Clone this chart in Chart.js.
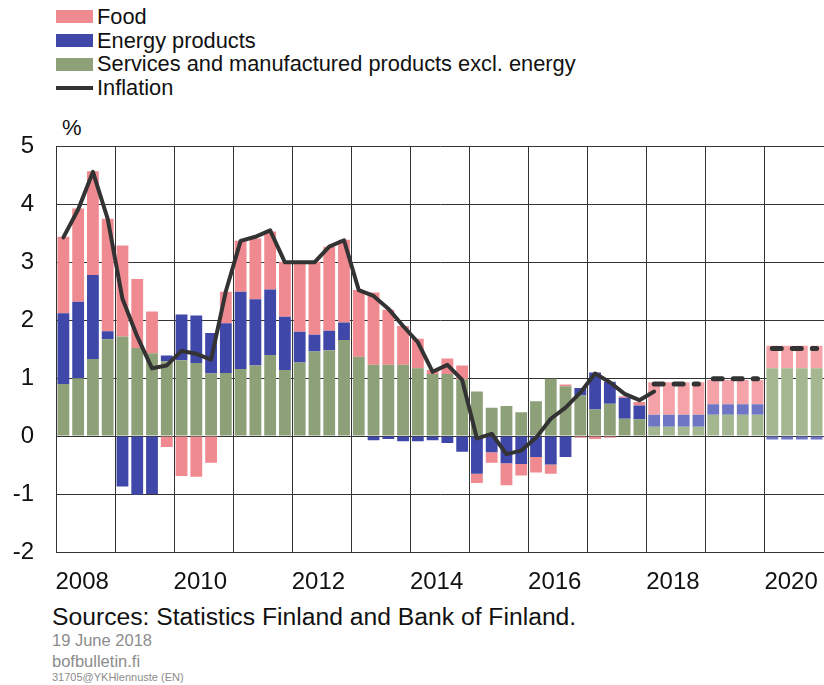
<!DOCTYPE html>
<html>
<head>
<meta charset="utf-8">
<script src="https://cdn.jsdelivr.net/npm/chart.js@4.4.0/dist/chart.umd.min.js"></script>
<style>
  body { margin:0; width:824px; height:685px; background:#fff; font-family:"Liberation Sans", Arial, sans-serif; position:relative; overflow:hidden; color:#111; }
  #legend { position:absolute; left:56px; top:5px; }
  .row { height:23.7px; display:flex; align-items:center; font-size:21.8px; white-space:nowrap; }
  .sw { width:37px; height:13px; margin-right:4px; }
  .ln { width:37px; height:4px; background:#333; margin-right:4px; }
  #pct { position:absolute; left:62px; top:115px; font-size:22px; }
  #chartBox { position:absolute; left:0; top:110px; }
  .foot { position:absolute; left:52px; white-space:nowrap; }
</style>
</head>
<body>
<div id="legend"></div>
<div id="pct">%</div>
<div id="chartBox"><canvas id="cpi" width="824" height="490"></canvas></div>
<div class="foot" style="top:603px;font-size:24.7px;line-height:28px;">Sources: Statistics Finland and Bank of Finland.</div>
<div class="foot" style="top:630px;font-size:16.5px;line-height:20px;color:#8c8c8c;">19 June 2018</div>
<div class="foot" style="top:651px;font-size:16.5px;line-height:20px;color:#8c8c8c;">bofbulletin.fi</div>
<div class="foot" style="top:670px;font-size:11px;line-height:14px;color:#8c8c8c;">31705@YKHlennuste (EN)</div>
<script>
// quarters 2008 Q1 .. 2020 Q4, 2018 onwards = forecast (annual values)
const years = [2008, 2009, 2010, 2011, 2012, 2013, 2014, 2015, 2016, 2017, 2018, 2019, 2020];
const tickYears = [2008, 2010, 2012, 2014, 2016, 2018, 2020];
const yTicks = [-2, -1, 0, 1, 2, 3, 4, 5];

const services = [
  0.90, 1.00, 1.33, 1.67,
  1.72, 1.52, 1.43, 1.29,
  1.31, 1.26, 1.08, 1.09,
  1.16, 1.22, 1.40, 1.14,
  1.27, 1.46, 1.48, 1.66,
  1.37, 1.23, 1.23, 1.23,
  1.17, 1.07, 1.07, 0.98,
  0.77, 0.49, 0.52, 0.41,
  0.60, 0.99, 0.86, 0.70,
  0.46, 0.56, 0.30, 0.29,
  0.16, 0.16, 0.16, 0.16,
  0.37, 0.37, 0.37, 0.37,
  1.17, 1.17, 1.17, 1.17
];
const energy = [
  1.22, 1.32, 1.45, 0.14,
  -0.87, -1.01, -1.00, 0.10,
  0.79, 0.82, 0.70, 0.86,
  1.33, 1.14, 1.13, 0.92,
  0.53, 0.29, 0.34, 0.30,
  0.00, -0.07, -0.05, -0.09,
  -0.09, -0.07, -0.12, -0.27,
  -0.65, -0.28, -0.47, -0.48,
  -0.36, -0.49, -0.36, 0.13,
  0.64, 0.38, 0.36, 0.24,
  0.21, 0.21, 0.21, 0.21,
  0.18, 0.18, 0.18, 0.18,
  -0.06, -0.06, -0.06, -0.06
];
const food = [
  1.32, 1.61, 1.79, 1.94,
  1.57, 1.19, 0.72, -0.19,
  -0.69, -0.70, -0.46, 0.54,
  0.88, 1.05, 1.00, 0.95,
  1.21, 1.26, 1.45, 1.43,
  1.15, 1.25, 0.95, 0.67,
  0.51, 0.07, 0.27, 0.24,
  -0.16, -0.18, -0.38, -0.20,
  -0.27, -0.16, 0.03, -0.03,
  -0.05, -0.03, 0.03, 0.06,
  0.56, 0.56, 0.56, 0.56,
  0.42, 0.42, 0.42, 0.42,
  0.39, 0.39, 0.39, 0.39
];
const inflation = [
  3.43, 3.91, 4.56, 3.75,
  2.37, 1.72, 1.17, 1.22,
  1.47, 1.42, 1.32, 2.50,
  3.37, 3.44, 3.55, 3.00,
  3.00, 3.00, 3.27, 3.38,
  2.52, 2.42, 2.20, 1.90,
  1.62, 1.11, 1.23, 0.97,
  -0.04, 0.04, -0.31, -0.25,
  -0.03, 0.30, 0.49, 0.75,
  1.08, 0.93, 0.73, 0.62,
  0.77, null, null, null,
  null, null, null, null,
  null, null, null, null
];
const inflationForecast = [
  null, null, null, null, null, null, null, null, null, null, null, null, null,
  null, null, null, null, null, null, null, null, null, null, null, null, null,
  null, null, null, null, null, null, null, null, null, null, null, null, null, null,
  0.90, 0.90, 0.90, 0.90,
  0.99, 0.99, 0.99, 0.99,
  1.51, 1.51, 1.51, 1.51
];

const quarterLabels = [];
years.forEach(y => ['Q1', 'Q2', 'Q3', 'Q4'].forEach(q => quarterLabels.push(y + ' ' + q)));
const firstForecast = quarterLabels.indexOf('2018 Q1');

const colors = {
  food: ['#f08a91', '#f5a3a8'],
  energy: ['#3f48a8', '#6d75c4'],
  services: ['#8da078', '#a5b790'],
  line: '#333333'
};
const gridColor = '#333';
const pick = pair => ctx => ctx.dataIndex >= firstForecast ? pair[1] : pair[0];

// legend in html
const legendItems = [
  ['Food', colors.food[0], 'box'],
  ['Energy products', colors.energy[0], 'box'],
  ['Services and manufactured products excl. energy', colors.services[0], 'box'],
  ['Inflation', colors.line, 'line']
];
const legendDiv = document.getElementById('legend');
legendItems.forEach(it => {
  const row = document.createElement('div');
  row.className = 'row';
  const mark = document.createElement('div');
  mark.className = it[2] === 'box' ? 'sw' : 'ln';
  mark.style.background = it[1];
  row.appendChild(mark);
  row.appendChild(document.createTextNode(it[0]));
  legendDiv.appendChild(row);
});

const barBase = { type: 'bar', stack: 'cpi', order: 2, barPercentage: 0.8, categoryPercentage: 1.0, borderWidth: 0 };

new Chart(document.getElementById('cpi'), {
  data: {
    labels: quarterLabels,
    datasets: [
      Object.assign({ label: 'Services and manufactured products excl. energy', data: services, backgroundColor: pick(colors.services) }, barBase),
      Object.assign({ label: 'Energy products', data: energy, backgroundColor: pick(colors.energy) }, barBase),
      Object.assign({ label: 'Food', data: food, backgroundColor: pick(colors.food) }, barBase),
      {
        type: 'line', label: 'Inflation', data: inflation, stack: 'inf', order: 0,
        borderColor: colors.line, borderWidth: 4, pointRadius: 0, tension: 0,
        borderJoinStyle: 'round', borderCapStyle: 'round'
      },
      {
        type: 'line', label: 'Inflation forecast', data: inflationForecast, stack: 'fc', order: 0,
        borderColor: colors.line, borderWidth: 5, pointRadius: 0, tension: 0,
        borderDash: [9, 11], borderCapStyle: 'round',
        segment: {
          borderColor: ctx => quarterLabels[ctx.p0DataIndex].slice(0, 4) !== quarterLabels[ctx.p1DataIndex].slice(0, 4) ? 'rgba(0,0,0,0)' : undefined
        }
      }
    ]
  },
  options: {
    responsive: false,
    animation: false,
    layout: { padding: { top: 35, right: 0, bottom: 0, left: 0 } },
    plugins: { legend: { display: false }, tooltip: { enabled: false } },
    scales: {
      x: {
        stacked: true,
        offset: true,
        afterFit: s => { s.height = 48; s.paddingLeft = 0; s.paddingRight = 0; },
        grid: {
          offset: true,
          drawTicks: false,
          color: ctx => ctx.index % 4 === 0 ? gridColor : 'rgba(0,0,0,0)',
          lineWidth: 1
        },
        border: { color: gridColor },
        ticks: {
          autoSkip: false,
          maxRotation: 0,
          minRotation: 0,
          padding: 16,
          labelOffset: 4,
          color: '#111',
          font: { family: '"Liberation Sans", Arial, sans-serif', size: 24 },
          callback: function (v, i) {
            const lab = quarterLabels[i];
            const y = Number(lab.slice(0, 4));
            return lab.endsWith('Q2') && tickYears.includes(y) ? String(y) : '';
          }
        }
      },
      y: {
        stacked: true,
        min: yTicks[0],
        max: yTicks[yTicks.length - 1],
        afterFit: s => { s.width = 56; },
        afterBuildTicks: s => { s.ticks = yTicks.map(v => ({ value: v })); },
        grid: { drawTicks: false, color: gridColor, lineWidth: 1 },
        border: { color: gridColor },
        ticks: {
          padding: 22,
          color: '#111',
          font: { family: '"Liberation Sans", Arial, sans-serif', size: 24 }
        }
      }
    }
  }
});
</script>
</body>
</html>
